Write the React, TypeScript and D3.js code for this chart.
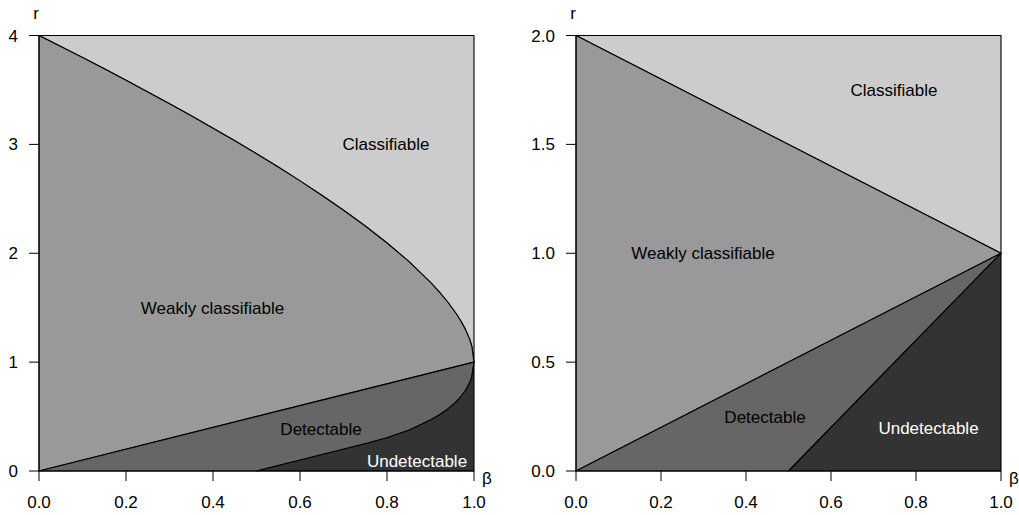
import { useEffect, useRef } from "react";
import * as d3 from "d3";

// left panel: boundary curves (beta, r)
const upperCurve: [number, number][] = [
  [0, 4], [0.05, 3.899], [0.1, 3.797], [0.15, 3.694], [0.2, 3.589], [0.25, 3.482],
  [0.3, 3.373], [0.35, 3.262], [0.4, 3.149], [0.45, 3.033], [0.5, 2.914],
  [0.55, 2.792], [0.6, 2.665], [0.65, 2.533], [0.7, 2.395], [0.75, 2.25],
  [0.8, 2.094], [0.85, 1.925], [0.9, 1.733], [0.92, 1.646], [0.94, 1.55],
  [0.96, 1.44], [0.97, 1.376], [0.98, 1.303], [0.99, 1.21], [0.995, 1.146], [1, 1],
];
const lowerCurve: [number, number][] = [
  [0.5, 0], [0.75, 0.25], [0.8, 0.306], [0.85, 0.375], [0.9, 0.468], [0.92, 0.514],
  [0.94, 0.57], [0.96, 0.64], [0.97, 0.684], [0.98, 0.737], [0.99, 0.81],
  [0.995, 0.864], [1, 1],
];
const diagonalLeft: [number, number][] = [[0, 0], [1, 1]];

// right panel: straight boundaries
const rightUpper: [number, number][] = [[0, 2], [1, 1]];
const rightMiddle: [number, number][] = [[0, 0], [1, 1]];
const rightLower: [number, number][] = [[0.5, 0], [1, 1]];

const xTicks = [0, 0.2, 0.4, 0.6, 0.8, 1];
const leftYTicks = [0, 1, 2, 3, 4];
const rightYTicks = [0, 0.5, 1, 1.5, 2];

const fills = {
  classifiable: "#cccccc",
  weakly: "#999999",
  detectable: "#666666",
  undetectable: "#333333",
};

const W = 1019;
const H = 515;
const FONT = "'Liberation Sans', Arial, Helvetica, sans-serif";

export default function App() {
  const svgRef = useRef<SVGSVGElement>(null);

  useEffect(() => {
    if (!svgRef.current) return;
    const svg = d3.select(svgRef.current);
    svg.selectAll("*").remove();

    const top = 35.5;
    const bottom = 471;

    const drawPanel = (
      left: number,
      right: number,
      yMax: number,
      yTicks: number[],
      yFmt: (v: number) => string,
      polys: { pts: [number, number][]; fill: string }[],
      labels: { text: string; x: number; y: number; color: string }[]
    ) => {
      const x = d3.scaleLinear().domain([0, 1]).range([left, right]);
      const y = d3.scaleLinear().domain([0, yMax]).range([bottom, top]);
      const line = d3.line<[number, number]>().x(d => x(d[0])).y(d => y(d[1]));
      const g = svg.append("g");

      polys.forEach(p => {
        g.append("path")
          .attr("d", line(p.pts) + "Z")
          .attr("fill", p.fill)
          .attr("stroke", "#000")
          .attr("stroke-width", 1.1)
          .attr("stroke-linejoin", "round");
      });

      // axes
      const ax = g.append("g").attr("stroke", "#000").attr("stroke-width", 1);
      ax.append("line").attr("x1", x(0)).attr("x2", x(1)).attr("y1", bottom).attr("y2", bottom);
      ax.append("line").attr("x1", left).attr("x2", left).attr("y1", y(0)).attr("y2", y(yMax));
      xTicks.forEach(t => {
        ax.append("line").attr("x1", x(t)).attr("x2", x(t)).attr("y1", bottom).attr("y2", bottom + 10);
        g.append("text")
          .attr("x", x(t)).attr("y", bottom + 37)
          .attr("text-anchor", "middle")
          .attr("font-size", 17).attr("font-family", FONT)
          .text(d3.format(".1f")(t));
      });
      yTicks.forEach(t => {
        ax.append("line").attr("x1", left - 10).attr("x2", left).attr("y1", y(t)).attr("y2", y(t));
        g.append("text")
          .attr("x", left - 21).attr("y", y(t)).attr("dy", "0.36em")
          .attr("text-anchor", "end")
          .attr("font-size", 17).attr("font-family", FONT)
          .text(yFmt(t));
      });
      g.append("text")
        .attr("x", left - 3).attr("y", 19)
        .attr("text-anchor", "middle")
        .attr("font-size", 17).attr("font-family", FONT)
        .text("r");
      g.append("text")
        .attr("x", right + 13).attr("y", bottom + 13)
        .attr("text-anchor", "middle")
        .attr("font-size", 17).attr("font-family", FONT)
        .text("β");

      labels.forEach(l => {
        g.append("text")
          .attr("x", l.x).attr("y", y(l.y)).attr("dy", "0.36em")
          .attr("text-anchor", "middle")
          .attr("font-size", 17).attr("font-family", FONT)
          .attr("fill", l.color)
          .text(l.text);
      });
    };

    const rev = (a: [number, number][]) => a.slice().reverse();

    drawPanel(
      39, 474, 4, leftYTicks, v => String(v),
      [
        { pts: [[0, 4], [1, 4], ...rev(upperCurve)], fill: fills.classifiable },
        { pts: [...diagonalLeft, ...rev(upperCurve)], fill: fills.weakly },
        { pts: [...diagonalLeft, ...rev(lowerCurve)], fill: fills.detectable },
        { pts: [[1, 0], ...rev(lowerCurve).reverse().reverse()], fill: fills.undetectable },
      ],
      [
        { text: "Classifiable", x: 386, y: 3, color: "#000" },
        { text: "Weakly classifiable", x: 212.5, y: 1.5, color: "#000" },
        { text: "Detectable", x: 321, y: 0.39, color: "#000" },
        { text: "Undetectable", x: 417, y: 0.09, color: "#fff" },
      ]
    );

    drawPanel(
      576, 1001, 2, rightYTicks, v => d3.format(".1f")(v),
      [
        { pts: [[0, 2], [1, 2], ...rev(rightUpper)], fill: fills.classifiable },
        { pts: [...rightMiddle, ...rev(rightUpper)], fill: fills.weakly },
        { pts: [...rightMiddle, ...rev(rightLower)], fill: fills.detectable },
        { pts: [[1, 0], ...rev(rightLower).reverse()], fill: fills.undetectable },
      ],
      [
        { text: "Classifiable", x: 894, y: 1.75, color: "#000" },
        { text: "Weakly classifiable", x: 703, y: 1.0, color: "#000" },
        { text: "Detectable", x: 765, y: 0.25, color: "#000" },
        { text: "Undetectable", x: 928.5, y: 0.2, color: "#fff" },
      ]
    );
  }, []);

  return (
    <svg
      ref={svgRef}
      width={W}
      height={H}
      style={{ position: "absolute", left: 0, top: 0, background: "#fff" }}
    />
  );
}
